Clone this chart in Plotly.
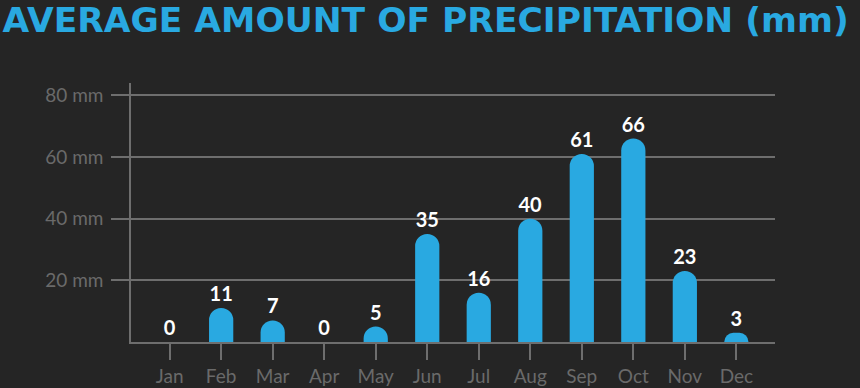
import plotly.graph_objects as go

months = ["Jan", "Feb", "Mar", "Apr", "May", "Jun", "Jul", "Aug", "Sep", "Oct", "Nov", "Dec"]
precip_mm = [0, 11, 7, 0, 5, 35, 16, 40, 61, 66, 23, 3]
y_ticks = [20, 40, 60, 80]
y_tick_labels = ["20 mm", "40 mm", "60 mm", "80 mm"]

BG = "#252525"
BLUE = "#29a9e1"
GRID = "#6e6e6e"
LABEL = "#6a6a6a"

fig = go.Figure(
    go.Bar(
        x=months,
        y=precip_mm,
        width=0.47,
        marker=dict(color=BLUE, cornerradius="50%", line=dict(width=0)),
        text=[str(v) for v in precip_mm],
        textposition="outside",
        textfont=dict(family="Lato", size=20, color="#ffffff", weight="bold"),
        cliponaxis=False,
        hoverinfo="skip",
    )
)

fig.update_layout(
    width=860,
    height=388,
    paper_bgcolor=BG,
    plot_bgcolor=BG,
    margin=dict(l=131, r=85, t=83, b=46, autoexpand=False),
    showlegend=False,
    title=dict(
        text="<b>AVERAGE AMOUNT OF PRECIPITATION (mm)</b>",
        font=dict(family="DejaVu Sans", size=34.5, color=BLUE),
        x=0.003,
        xanchor="left",
        xref="container",
        yref="container",
        y=0.948,
        yanchor="middle",
        pad=dict(t=0, l=0),
    ),
    xaxis=dict(
        range=[-0.75, 11.75],
        showgrid=False,
        showline=True,
        linecolor=GRID,
        linewidth=1.5,
        ticks="outside",
        ticklen=16,
        tickcolor=GRID,
        tickwidth=1.5,
        automargin=False,
        tickfont=dict(family="Lato", size=19, color=LABEL),
        fixedrange=True,
    ),
    yaxis=dict(
        range=[0, 84],
        tickvals=y_ticks,
        ticktext=y_tick_labels,
        showgrid=True,
        gridcolor=GRID,
        gridwidth=1.5,
        showline=True,
        linecolor=GRID,
        linewidth=1.5,
        ticks="outside",
        ticklen=18,
        tickcolor=GRID,
        tickwidth=1.5,
        ticklabelstandoff=4,
        zeroline=False,
        automargin=False,
        tickfont=dict(family="Lato", size=19, color=LABEL),
        fixedrange=True,
    ),
)

fig.write_html(
    "out.html",
    config={"displayModeBar": False},
    post_script="document.body.style.margin='0';document.body.style.overflow='hidden';",
)
